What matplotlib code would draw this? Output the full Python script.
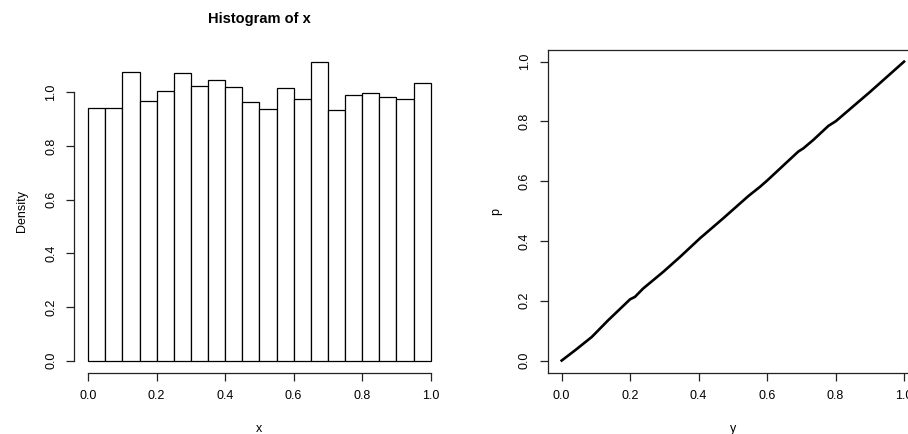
import numpy as np
import matplotlib
matplotlib.use('Agg')
import matplotlib.pyplot as plt

plt.rcParams['font.family'] = ['Liberation Sans', 'DejaVu Sans']

# histogram of x: bin edges and density of each bin
breaks = [0.00, 0.05, 0.10, 0.15, 0.20, 0.25, 0.30, 0.35, 0.40, 0.45, 0.50,
          0.55, 0.60, 0.65, 0.70, 0.75, 0.80, 0.85, 0.90, 0.95, 1.00]
density = [0.940, 0.943, 1.077, 0.966, 1.006, 1.071, 1.025, 1.047, 1.020, 0.963,
           0.937, 1.014, 0.974, 1.114, 0.934, 0.991, 0.996, 0.983, 0.973, 1.036]

# p against y (sorted)
y = [0.0, 0.04, 0.088, 0.136, 0.20, 0.214, 0.238, 0.297, 0.346, 0.404, 0.472,
     0.545, 0.579, 0.60, 0.691, 0.706, 0.735, 0.779, 0.801, 0.90, 1.0]
p = [0.0, 0.035, 0.079, 0.135, 0.205, 0.213, 0.241, 0.297, 0.347, 0.409, 0.476,
     0.550, 0.581, 0.602, 0.699, 0.710, 0.738, 0.785, 0.801, 0.898, 1.0]

ticks = [0.0, 0.2, 0.4, 0.6, 0.8, 1.0]
tick_labels = ['0.0', '0.2', '0.4', '0.6', '0.8', '1.0']

fig = plt.figure(figsize=(9.08, 4.34), dpi=100)

# left panel - histogram, R style open axes
ax1 = fig.add_axes([0.0820, 0.1417, 0.4074, 0.7438])
left = np.array(breaks[:-1])
widths = np.diff(breaks)
ax1.bar(left, density, width=widths, align='edge', facecolor='white',
        edgecolor='black', linewidth=0.9)
top = max(density)
ax1.set_xlim(-0.04, 1.04)
ax1.set_ylim(-0.04 * top, top * 1.04)
ax1.spines['top'].set_visible(False)
ax1.spines['right'].set_visible(False)
ax1.spines['left'].set_bounds(0, 1)
ax1.spines['bottom'].set_bounds(0, 1)
ax1.set_xticks(ticks)
ax1.set_xticklabels(tick_labels)
ax1.set_yticks(ticks)
ax1.set_yticklabels(tick_labels, rotation=90, va='center')
ax1.set_title('Histogram of x', fontsize=10.5, fontweight='bold', pad=19)
ax1.set_xlabel('x', fontsize=9, labelpad=15)
ax1.set_ylabel('Density', fontsize=9, labelpad=12)

# right panel - line plot with full box
ax2 = fig.add_axes([0.6035, 0.1417, 0.4072, 0.7438])
ax2.plot(y, p, color='black', linewidth=1.9)
ax2.set_xlim(-0.04, 1.04)
ax2.set_ylim(-0.04, 1.04)
ax2.set_xticks(ticks)
ax2.set_xticklabels(tick_labels)
ax2.set_yticks(ticks)
ax2.set_yticklabels(tick_labels, rotation=90, va='center')
ax2.set_xlabel('y', fontsize=9, labelpad=15)
ax2.set_ylabel('p', fontsize=9, labelpad=12)

for ax in (ax1, ax2):
    for s in ax.spines.values():
        s.set_linewidth(0.9)
        s.set_color('#222222')
    ax.tick_params(direction='out', length=5.5, width=0.9, color='#222222',
                   labelsize=9, pad=7)

plt.savefig('out.png', dpi=100)
